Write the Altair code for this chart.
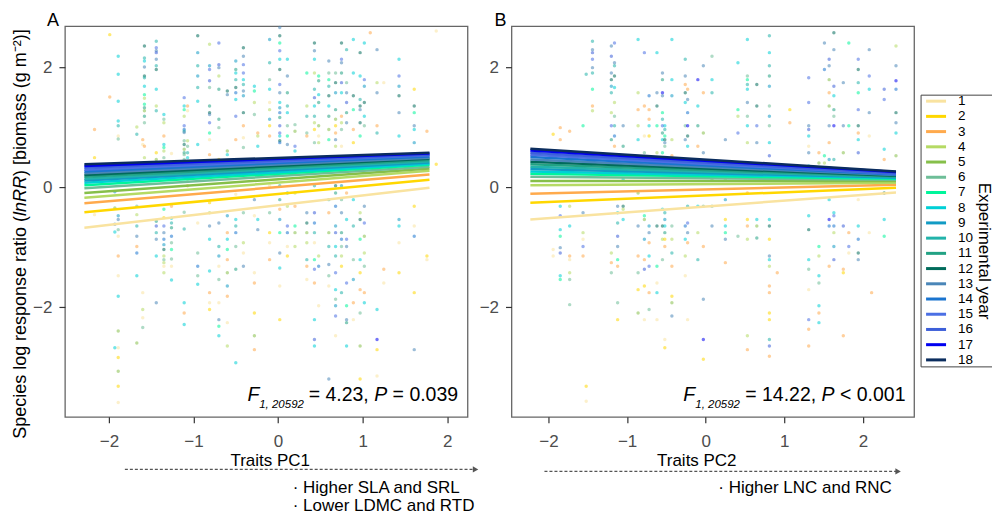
import altair as alt
import pandas as pd

FONT = "Liberation Sans"
YEARS = list(range(1, 19))
YEAR_COLORS = ["#F9E3A0", "#FFD700", "#FFAA4C", "#B5DA64", "#86BF4A", "#6EBE98",
               "#00F59B", "#00D0D6", "#129BC4", "#22B3AA", "#22A284", "#016B5B",
               "#4A86B8", "#1A74CF", "#4B6FE4", "#3D5FD9", "#0000F0", "#0B2D5E"]

# regression lines (value at left end, value at right end) per year
A_LINE_X = [-2.29, 1.79]
A_LINE_LEFT = [-0.68, -0.42, -0.27, -0.18, -0.10, -0.02, 0.03, 0.07, 0.11,
               0.14, 0.17, 0.20, 0.23, 0.26, 0.29, 0.32, 0.35, 0.38]
A_LINE_RIGHT = [-0.01, 0.12, 0.21, 0.27, 0.31, 0.34, 0.37, 0.39, 0.41,
                0.43, 0.45, 0.47, 0.49, 0.51, 0.53, 0.54, 0.56, 0.57]
B_LINE_X = [-2.23, 2.42]
B_LINE_LEFT = [-0.54, -0.26, -0.11, 0.03, 0.10, 0.17, 0.22, 0.26, 0.30,
               0.34, 0.38, 0.42, 0.46, 0.50, 0.54, 0.57, 0.61, 0.64]
B_LINE_RIGHT = [-0.09, -0.01, 0.04, 0.07, 0.10, 0.12, 0.14, 0.15, 0.16,
                0.17, 0.18, 0.19, 0.20, 0.21, 0.22, 0.23, 0.25, 0.26]

# scattered species observations: columns of trait value, lnRR values, years
A_COL_X = [-2.17, -1.99, -1.89, -1.93, -1.67, -1.60, -1.58, -1.44, -1.35, -1.26,
           -1.11, -1.07, -0.95, -0.81, -0.70, -0.60, -0.50, -0.41, -0.28, -0.24,
           -0.10, 0.02, 0.11, 0.20, 0.34, 0.43, 0.48, 0.60, 0.68, 0.75,
           0.81, 0.89, 0.97, 1.02, 1.17, 1.25, 1.43, 1.61, 1.76, 1.87, 1.09]
A_COL_Y = [
    "0.96 0.49 -0.46",
    "2.54 1.5",
    "2.18 1.88 1.43 1.10 1.02 0.85 0.80 -0.48 -0.54 -0.71 -0.82 -1.15 -1.48 -1.82 -2.40 -2.68 -2.84 -3.07 -3.32 -3.59",
    "-0.08 -0.35 -0.62 -0.75 -2.68",
    "1.0 0.88 -0.32 -0.46 -0.65 -0.82 -0.99 -1.10 -1.48 -2.6",
    "0.79 0.71 -1.76 -2.04 -2.18 -2.34",
    "2.35 2.15 2.1 2.0 1.85 1.82 1.68 1.54 1.48 1.38 1.32 1.27 1.18 1.07 0.68 0.49",
    "2.43 2.32 2.27 2.24 2.13 2.02 1.96 1.63 1.35 1.27 0.57 0.46 -0.57 -0.65 -0.76 -0.87 -1.15 -1.93",
    "1.21 1.13 1.07 0.85 0.71 0.66 0.6 0.49 -0.37 -0.51 -0.65 -0.76 -0.87 -0.96 -1.04 -1.15 -1.21 -1.26 -1.32 -1.43",
    "0.56 0.3 -0.32 -0.52 -0.6 -0.68 -0.82 -0.93 -1.04 -1.2 -1.32 -1.55",
    "1.49 1.35 1.29 1.18 1.02 0.96 0.93 0.91 0.77 0.71 0.63 0.57 0.54 0.46 -0.42 -0.7 -1.93 -2.1 -2.29",
    "1.35 1.27 0.77 0.68 0.57 0.49 0.35 0.24 0.13 0.02",
    "2.52 2.24 2.02 1.85 1.66 1.43 0.71 -0.6 -1.1 -1.32 -1.48 -1.62",
    "2.38 2.02 1.96 1.77 1.66 1.35 1.24 1.21 1.07 0.9 0.79 0.54 -0.26 -0.43 -0.65 -0.87 -1.4 -1.76 -1.93 -2.04",
    "2.4 2.04 1.99 1.85 1.63 1.13 0.99 0.46 -0.6 -0.99 -1.15 -1.32 -1.54 -1.93 -2.21 -2.32 -2.48",
    "1.6 1.54 0.6 0.54 -0.48 -0.76 -0.87 -1.04 -1.21 -1.43 -1.65 -1.82 -2.26 -2.65",
    "2.1 1.96 1.9 1.79 1.66 1.57 1.46 1.18 0.79 -0.12 -0.54 -0.65 -0.76 -0.99 -1.37 -2.93",
    "2.32 2.18 2.04 1.9 1.79 1.71 1.6 1.52 1.24 1.02 0.82 0.66 -0.43 -0.93 -1.1 -1.32",
    "1.68 1.6 1.41 1.21 -0.21 -0.48 -1.43 -1.6 -2.1 -2.48 -2.71",
    "0.9 0.85 0.68 -0.54 -0.71",
    "2.46 2.07 1.79 1.63 1.41 1.29 1.13 1.02 0.85 0.02 -0.43 -0.76 -0.93 -1.21",
    "2.66 2.52 2.4 2.27 2.13 1.96 1.71 1.57 1.41 1.32 1.24 1.16 1.02 0.9 0.85 0.77 0.74 0.02 -0.21 -0.37 -0.54 -0.76 -1.1 -1.35 -1.65 -2.21",
    "2.13 1.85 1.57 1.35 1.24 1.02 0.85 0.71 -0.1 -0.32 -0.65 -0.76 -0.99 -1.15",
    "1.04 0.93 0.68 0.6 -0.1 -0.32 -0.65 -0.76 -0.99",
    "1.9 1.35 1.18 0.9 0.85 -0.43 -0.6 -0.76 -0.93 -1.21 -1.32 -1.54",
    "2.4 2.27 2.13 1.9 1.63 1.49 1.35 1.18 1.07 0.96 0.74 0.02 -0.43 -0.6 -0.76 -0.93 -1.21 -1.37 -1.6 -2.21 -2.54 -2.65",
    "1.85 1.77 1.54 1.41 1.02 0.85 0.74 -1.15 -1.32 -1.98",
    "2.1 1.9 1.79 1.68 1.52 1.35 1.18 0.96 0.79 -0.21 -0.43 -0.76 -0.99 -1.29 -1.48 -1.65 -3.2",
    "1.9 1.74 1.57 1.29 1.13 1.02 0.9 0.79 0.68 0.35 0.02 -0.1 -0.32 -0.65 -0.76 -0.99 -1.15 -1.43 -1.71 -1.87 -1.98 -2.15 -2.48",
    "2.4 2.13 2.07 1.9 1.74 1.57 1.18 1.07 0.96 0.68 0.02 -0.21 -0.43 -0.76 -0.87 -0.99 -1.15 -1.32 -1.76",
    "2.29 1.74 1.57 1.41 1.24 1.07 -0.1 -0.54 -0.87 -0.99 -1.6 -1.98 -2.21 -2.26 -2.65",
    "2.46 1.9 1.52 1.29 0.96 0.74 -0.21 -0.65 -1.21 -1.54 -1.93 -2.21",
    "2.24 1.85 1.46 1.35 1.29 1.07 0.85 -0.43 -0.54 -0.87 -1.21 -1.43 -1.71 -2.1 -2.65 -3.2",
    "2.4 1.79 1.68 1.41 1.18 1.02 -0.32 -0.6 -0.82 -1.1 -1.32 -1.76 -1.93",
    "2.29 1.74 1.57 1.02 0.9 -2.04 -2.54 -2.71 -3.15",
    "1.74 -1.37 -1.6",
    "2.13 1.85 1.68 1.52 1.24 0.85 -0.54 -0.65 -0.93 -1.43",
    "1.63 1.35 1.24 1.02 0.96 0.74 -0.32 -0.65 -0.82 -1.76 -2.71",
    "0.93 -1.15 -1.21",
    "2.6 0.38",
    "2.57",
]
A_COL_YR = [
    "3 2 1", "2 3",
    "8 8 8 8 10 1 6 9 13 6 1 3 1 8 5 1 2 5 2 1",
    "9 5 13 8 8",
    "4 10 6 4 10 13 3 14 8 5",
    "3 1 1 4 1 6",
    "12 10 8 13 12 10 8 7 4 7 11 5 11 6 3 4",
    "10 15 13 16 13 10 12 8 4 10 2 5 11 16 10 13 8 13",
    "8 6 4 3 8 7 4 6 7 2 15 13 14 9 12 4 6 4 1 4",
    "1 3 3 8 10 11 14 6 7 6 1 8",
    "15 8 7 4 15 14 10 13 6 12 5 11 6 6 6 10 8 3 8",
    "3 1 4 6 10 8 5 6 4 3",
    "12 9 10 9 10 8 8 1 6 14 6 8",
    "4 9 15 16 6 11 12 13 15 7 1 3 2 4 13 8 8 3 1 2",
    "15 16 13 4 11 11 6 2 13 10 9 1 6 1 13 7 8",
    "12 13 5 8 9 3 8 7 3 5 9 3 1 4",
    "9 11 8 10 12 14 8 15 3 1 8 10 14 6 11 8",
    "12 13 15 15 8 10 13 9 12 3 1 6 6 4 1 13",
    "8 7 4 6 13 1 1 3 2 5 3",
    "3 4 8 8 13",
    "9 10 6 8 1 4 9 2 3 1 6 2 1 3",
    "13 12 7 15 8 12 15 13 8 9 14 11 16 15 8 12 14 10 11 3 9 7 13 8 1 2",
    "8 13 11 10 8 6 7 13 10 4 15 14 1 2",
    "6 5 15 8 4 3 7 5 4",
    "7 4 10 6 3 13 12 5 4 10 3 1",
    "12 13 8 4 10 16 8 10 4 2 6 10 16 14 10 1 7 15 3 8 16 8",
    "7 11 8 11 5 1 4 4 14 1",
    "13 6 7 10 12 8 11 5 7 10 3 5 10 13 6 1 13",
    "6 12 9 11 5 2 3 13 4 4 12 11 14 9 16 8 10 15 8 6 9 15 1",
    "12 15 13 11 16 8 3 4 6 1 9 6 13 11 14 6 4 2 10",
    "10 6 13 16 11 13 3 8 15 13 15 7 13 11 8",
    "8 8 12 7 3 2 8 10 6 9 3 1",
    "12 8 10 12 13 12 7 4 12 7 8 2 3 6 5 2",
    "8 15 9 12 8 6 13 15 5 4 6 3 8",
    "13 4 13 3 10 8 17 2 1",
    "1 3 1",
    "8 15 9 12 13 8 9 8 1 2",
    "2 12 7 13 8 9 2 1 14 2 13",
    "3 2 1", "1 2", "3",
]

B_COL_X = [-1.94, -1.85, -1.73, -1.56, -1.52, -1.44, -1.20, -1.16, -1.12, -1.05,
           -0.86, -0.78, -0.72, -0.62, -0.55, -0.52, -0.43, -0.26, -0.23, -0.10,
           -0.03, 0.08, 0.25, 0.41, 0.53, 0.65, 0.81, 0.91, 1.07, 1.31,
           1.44, 1.51, 1.57, 1.63, 1.75, 1.82, 1.94, 2.08, 2.11, 2.27, 2.42]
B_COL_Y = [
    "0.88 -1.04 -1.15",
    "0.99 0.79 -0.32 -0.48 -0.71 -0.82 -1.01 -1.1 -1.48 -1.54",
    "0.93 -0.32 -0.65 -1.15 -1.21 -1.43 -1.54 -1.96",
    "1.02 -0.43 -0.76 -0.87 -0.99 -1.15",
    "1.88 -3.32 -3.57",
    "2.43 2.29 2.24 2.13 1.99 1.9 1.63 1.35 1.27",
    "2.35 2.18 1.9 1.79 1.68 1.57 1.24 1.02 0.79 -1.1 -1.26 -1.43",
    "2.4 2.07 2.02 1.85 1.66 1.41 1.18 1.02 0.85 0.68",
    "-0.32 -0.43 -0.6 -0.82 -0.99 -1.21 -1.32 -1.93 -2.21",
    "1.02 0.68 0.13 -0.32 -0.37 -0.54",
    "2.46 1.57 1.29 1.02 0.79 -0.1 -0.65 -1.15 -1.43 -1.71 -2.1",
    "2.24 1.35 0.85 0.57 -0.48 -0.54 -0.87 -1.21 -1.37 -1.65 -2.21",
    "1.52 1.29 1.13 1.02 0.85 -0.65 -0.76 -0.93 -1.15 -1.32 -1.76 -2.04",
    "2.24 1.57 1.35 1.02 0.57 0.35 -0.65 -1.32 -1.6 -1.76 -2.21",
    "1.9 1.79 1.57 1.52 1.24 1.13 1.02 0.9 0.79 0.57 -0.37 -0.65 -0.87 -1.21",
    "1.02 0.96 0.85 0.79 0.74 0.68 -0.43 -0.54 -0.65 -0.76 -0.87 -0.99 -2.54 -2.68",
    "2.46 1.79 1.52 0.79 0.52 -0.65 -0.87 -1.1 -1.32 -1.82 -1.93 -2.15",
    "2.13 1.85 1.71 1.57 1.41 1.02 0.79 -0.65 -0.87 -1.15 -1.48",
    "1.63 1.46 1.24 1.02 0.85 0.68 -0.32 -0.6 -0.76 -0.93 -2.21",
    "1.79 1.35 1.02 0.68 -0.32 -0.76 -1.21",
    "2.02 1.57 0.9 0.57 -0.32 -0.99 -1.87 -2.54 -2.87",
    "2.18 1.79 1.57 0.13 -0.32 -0.65",
    "0.79 0.13 -0.21 -0.54 -0.65 -0.76 -0.87 -1.26",
    "2.07 1.29 1.18 0.9 -0.82",
    "2.46 1.85 1.79 1.71 1.63 1.41 1.18 1.02 0.74 -0.1 -0.54 -0.65 -0.87 -2.48 -2.71",
    "1.71 1.35 1.02 0.74 -0.54 -0.65 -0.85",
    "2.52 2.24 2.02 1.85 1.68 1.35 1.18 1.02 0.74 0.52 -0.54 -0.65 -0.87 -1.15 -1.21 -1.32 -1.65 -1.76 -2.1 -2.21 -2.54 -2.65 -2.82",
    "-1.43",
    "1.29 1.07",
    "1.82 1.41 1.02 0.96 0.85 0.68 0.57 0.35 -0.48 -0.71 -1.21 -1.37 -1.71 -2.21 -2.37 -2.65",
    "0.57 0.4 -0.99 -1.15 -1.48 -1.6 -1.98 -2.1 -2.26",
    "2.4 1.96 0.52 0.4",
    "2.13 2.02 1.79 1.57 1.35 1.02 0.74 0.46 -0.21 -0.54 -0.65 -1.32",
    "2.57 2.29 1.68 1.52 1.29 1.18 1.02 0.46 -0.43 -0.48 -0.65 -0.76 -0.99 -1.21",
    "1.74 1.02 0.57 -0.65 -1.37 -1.43 -2.48",
    "2.4 1.02 -0.76 -0.99 -1.1",
    "2.13 1.96 1.74 1.57 1.29 1.02 0.9 0.79 0.57 0.24 -0.21 -0.65 -0.87 -1.1 -1.21",
    "2.29 1.85 1.63 1.24 0.85 -0.76",
    "-1.76",
    "1.63 1.46 0.63 0.46 0.07 -0.1 -0.54 -0.82",
    "2.35 2.02 1.77 1.63 1.24 1.07 0.9 0.52",
]
B_COL_YR = [
    "2 1 1",
    "3 3 8 15 8 7 13 16 8 7",
    "3 4 8 3 1 4 6 6",
    "7 13 4 1 15 3",
    "10 2 1",
    "10 13 16 15 13 10 7 3 4",
    "13 16 13 12 9 10 4 15 11 4 3 6",
    "15 13 10 12 8 4 6 10 14 3",
    "13 8 10 16 13 7 3 6 2",
    "13 11 8 12 4 8",
    "8 4 3 4 8 5 13 3 6 2 5",
    "15 3 1 6 7 5 9 3 16 2 1",
    "14 3 3 8 2 9 13 3 8 15 3 6",
    "8 13 12 7 4 1 12 7 1 8 1",
    "13 11 17 13 7 10 15 11 8 7 8 12 4 6",
    "8 10 7 12 13 6 10 9 8 11 2 3 1 2",
    "8 8 9 4 3 6 4 10 3 2 5 13",
    "10 13 3 12 8 6 13 14 8 4 1",
    "3 13 14 17 12 8 10 15 13 3 1",
    "17 8 11 3 8 4 10",
    "13 3 5 13 6 3 13 17 2",
    "6 8 10 5 6 13",
    "13 4 9 2 8 7 13 3",
    "8 7 4 15 6",
    "8 6 7 10 8 13 6 8 4 3 2 3 4 4 3",
    "12 12 15 13 8 5 11",
    "10 8 10 11 9 6 9 6 8 16 8 12 2 13 8 4 3 3 2 2 10 16 3",
    "3",
    "2 3",
    "15 15 13 16 8 1 13 8 8 12 8 6 1 15 3 3",
    "3 5 7 4 8 6 8 3 8",
    "13 14 7 4",
    "16 13 5 3 5 13 3 9 8 17 14 3",
    "12 13 16 8 11 6 17 10 8 15 14 4 9 16",
    "13 13 5 16 3 2 3",
    "7 7 3 15 1",
    "15 12 10 7 15 12 3 8 16 8 1 8 14 12 13",
    "13 15 8 13 1 1",
    "3",
    "16 15 8 3 2 12 8 7",
    "4 13 17 14 12 13 8 5",
]

A_STAT = ["= 4.23,", "= 0.039"]
B_STAT = ["= 14.22,", "< 0.001"]
DF_TEXT = "1, 20592"
LEGEND_TITLE = "Experimental year"


def points_df(xs, ys, yrs):
    rows = []
    for x, ystr, yrstr in zip(xs, ys, yrs):
        for yv, yr in zip(ystr.split(), yrstr.split()):
            rows.append({"x": x, "y": float(yv), "year": int(yr)})
    return pd.DataFrame(rows)


def lines_df(xends, left, right):
    rows = []
    for yr, l, r in zip(YEARS, left, right):
        rows.append({"x": xends[0], "y": l, "year": yr})
        rows.append({"x": xends[1], "y": r, "year": yr})
    return pd.DataFrame(rows)


DUMMY = pd.DataFrame({"d": [0]})
LEG_DF = pd.DataFrame({"year": YEARS})
Y_SCALE = alt.Scale(domain=[-3.83, 2.68], nice=False, zero=False)
COLOR_SCALE = alt.Scale(domain=YEARS, range=YEAR_COLORS)
LEG_Y = alt.Y("year:O", scale=alt.Scale(type="point", domain=YEARS,
                                          range=[75, 334], padding=0), axis=None)


def text(t, x, y, size=18, align="left", style="normal", angle=0, color="black"):
    return alt.Chart(DUMMY).mark_text(
        text=t, fontSize=size, align=align, baseline="alphabetic",
        fontStyle=style, angle=angle, color=color, font=FONT,
    ).encode(x=alt.value(x), y=alt.value(y))


def rule(x1, x2, y1, y2, color="#444", width=1, dash=None):
    kw = dict(color=color, strokeWidth=width)
    if dash:
        kw["strokeDash"] = dash
    return alt.Chart(DUMMY).mark_rule(**kw).encode(
        x=alt.value(x1), x2=alt.value(x2), y=alt.value(y1), y2=alt.value(y2))


def arrow(x1, x2, y):
    head = alt.Chart(DUMMY).mark_point(
        shape="triangle-right", filled=True, size=40, color="#555", opacity=1
    ).encode(x=alt.value(x2 - 3), y=alt.value(y))
    return [rule(x1, x2 - 4, y, y, color="#555", width=1.2, dash=[3, 2]), head]


def panel_layers(pts, lns, dom, title, title_x, letter, letter_x, stat, fx, extra, arrow_spec):
    xscale = alt.Scale(domain=dom, nice=False, zero=False)
    xaxis = alt.Axis(values=[-2, -1, 0, 1, 2], format="d", title=title,
                     titleX=title_x, titleY=49, titleBaseline="alphabetic",
                     titleAlign="center", labelBaseline="alphabetic",
                     labelPadding=24)
    yaxis = alt.Axis(values=[-2, 0, 2], format="d", title=None, labelPadding=7)
    points = alt.Chart(pts).mark_circle(size=12, opacity=0.55).encode(
        x=alt.X("x:Q", scale=xscale, axis=xaxis),
        y=alt.Y("y:Q", scale=Y_SCALE, axis=yaxis),
        color=alt.Color("year:O", scale=COLOR_SCALE, legend=None),
    )
    lines = alt.Chart(lns).mark_line(strokeWidth=2.5).encode(
        x=alt.X("x:Q", scale=xscale),
        y=alt.Y("y:Q", scale=Y_SCALE),
        color=alt.Color("year:O", scale=COLOR_SCALE, legend=None),
        order="year:O",
    )
    layers = [points, lines]
    layers.append(text(letter, letter_x, 0, size=18))
    f0, s0, m0, p0, e0 = fx
    layers.append(text("F", f0, 375, size=19.5, style="italic"))
    layers.append(text(DF_TEXT, s0, 381.7, size=11.5, style="italic"))
    layers.append(text(stat[0], m0, 375, size=19.5))
    layers.append(text("P", p0, 375, size=19.5, style="italic"))
    layers.append(text(stat[1], e0, 375, size=19.5))
    layers += arrow(*arrow_spec)
    layers += extra
    return layers


A_extra = [
    text("Species log response ratio (", -39, 190, size=18, align="right", angle=270),
    text("lnRR", -39, 190, size=18, align="left", angle=270, style="italic"),
    text(") [biomass (g m\u207b\u00b2)]", -39, 150, size=18, align="left", angle=270),
    text("\u00b7 Higher SLA and SRL", 228, 467, size=17),
    text("\u00b7 Lower LDMC and RTD", 228, 485.5, size=17),
]
B_extra = [
    text("\u00b7 Higher LNC and RNC", 207, 467, size=17),
]

# legend frame: left, top and bottom edges (right edge lies past the picture)
legend_frame = [
    rule(410, 410, 69, 341),
    rule(410, 481, 69, 69),
    rule(410, 481, 341, 341),
]
legend_sym = alt.Chart(LEG_DF).mark_rule(strokeWidth=3).encode(
    x=alt.value(415), x2=alt.value(435), y=LEG_Y,
    color=alt.Color("year:O", scale=COLOR_SCALE, legend=None),
)
legend_lab = alt.Chart(LEG_DF).mark_text(
    align="left", baseline="middle", fontSize=13.5, font=FONT, color="black"
).encode(x=alt.value(447), y=LEG_Y, text="year:O")
legend_title = alt.Chart(DUMMY).mark_text(
    text=LEGEND_TITLE, fontSize=17, align="center", baseline="alphabetic",
    angle=90, font=FONT, color="black",
).encode(x=alt.value(468), y=alt.value(225))

chartA = alt.layer(*panel_layers(
    points_df(A_COL_X, A_COL_Y, A_COL_YR),
    lines_df(A_LINE_X, A_LINE_LEFT, A_LINE_RIGHT),
    [-2.52, 2.24], "Traits PC1", 205, "A", -18, A_STAT,
    (182.7, 194.5, 244, 309.6, 328), A_extra, (60, 414, 443.6),
)).properties(width=403, height=391)

innerB = alt.layer(*panel_layers(
    points_df(B_COL_X, B_COL_Y, B_COL_YR),
    lines_df(B_LINE_X, B_LINE_LEFT, B_LINE_RIGHT),
    [-2.47, 2.65], "Traits PC2", 185, "B", -17, B_STAT,
    (172, 184, 234, 310.4, 328.8), B_extra, (33, 390, 445.6),
))
chartB = alt.layer(innerB, *legend_frame, legend_sym, legend_lab, legend_title).resolve_scale(
    y="independent"
).properties(width=403, height=391)

chart = alt.hconcat(chartA, chartB, spacing=44, bounds="flush").properties(
    padding={"left": 11, "top": 11, "right": 0, "bottom": 0}
).configure(font=FONT).configure_view(
    stroke="#666", strokeWidth=1.3
).configure_axis(
    grid=False, domain=False, ticks=True, tickSize=6, tickColor="#333",
    tickWidth=1.2, labelFontSize=17, labelColor="#4d4d4d", labelFont=FONT,
    titleFontSize=17, titleFontWeight="normal", titleColor="black", titleFont=FONT,
)

chart.save("out.html", embed_options={"renderer": "svg", "actions": False})
